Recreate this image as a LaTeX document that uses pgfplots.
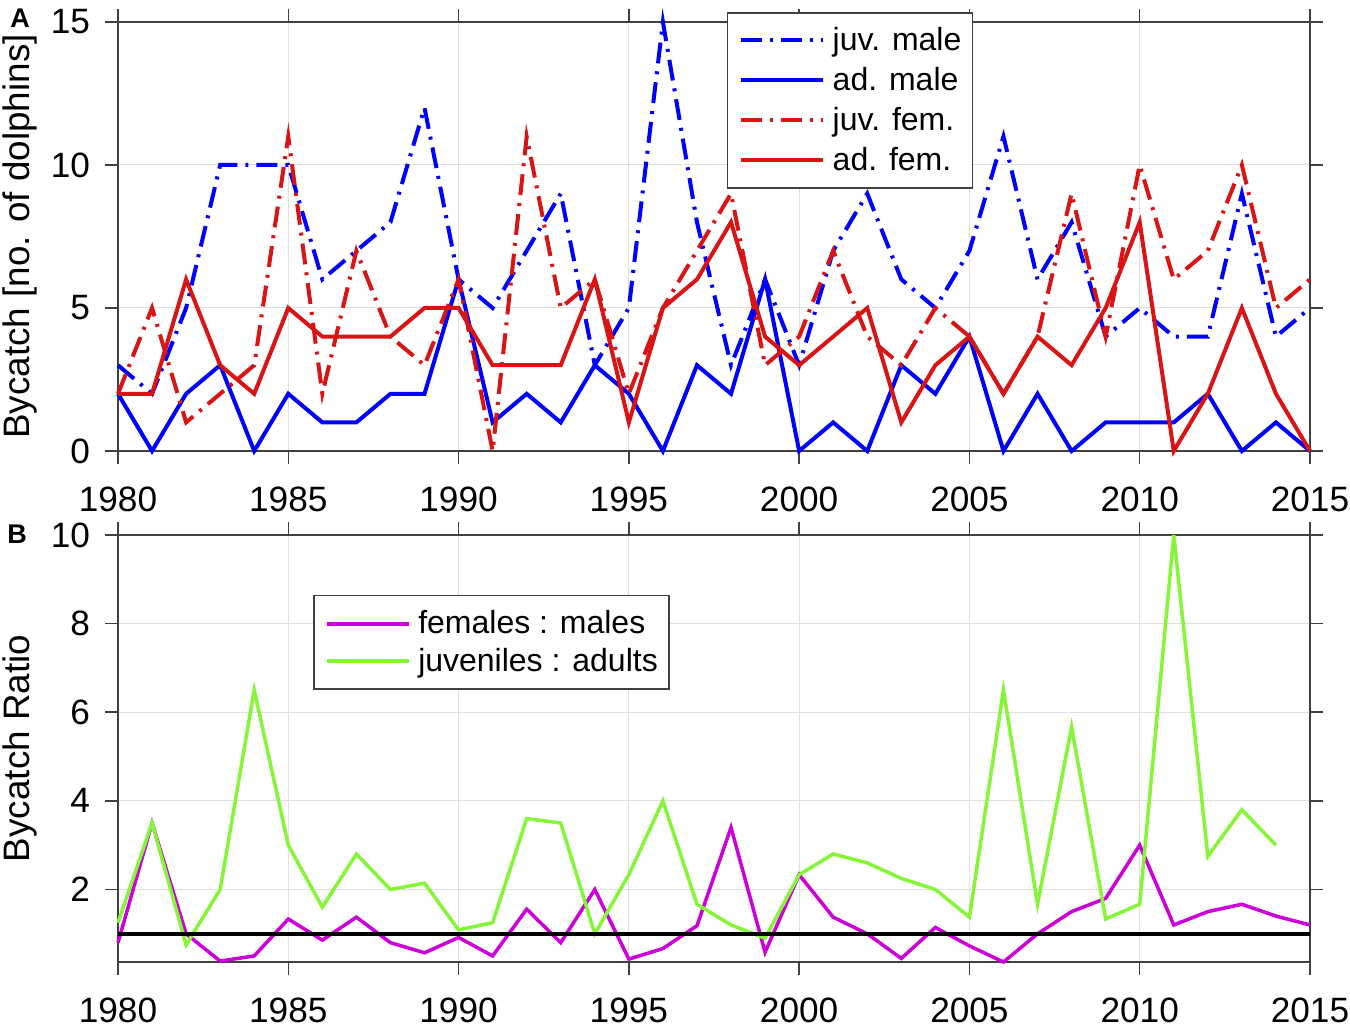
\documentclass[border=0pt]{standalone}
\usepackage{fontspec}
\setmainfont{Liberation Sans}
\usepackage{pgfplots}
\pgfplotsset{compat=1.18}
\usepackage{pgfplotstable}
\definecolor{mblue}{rgb}{0,0,1}
\definecolor{mred}{rgb}{0.85,0.08,0.08}
\definecolor{mmag}{rgb}{0.8,0,0.85}
\definecolor{mgreen}{rgb}{0.52,0.96,0.22}
\definecolor{axgray}{gray}{0.25}
\newcommand\strutA{\hspace*{4pt}\rule[-4pt]{0pt}{16pt}}
\newcommand\strutB{\hspace*{4pt}\rule[-3.6pt]{0pt}{15pt}}

\pgfplotstableread{
year jm am jf af
1980 3 2 2 2
1981 2 0 5 2
1982 5 2 1 6
1983 10 3 2 3
1984 10 0 3 2
1985 10 2 11 5
1986 6 1 2 4
1987 7 1 7 4
1988 8 2 4 4
1989 12 2 3 5
1990 6 6 6 5
1991 5 1 0 3
1992 7 2 11 3
1993 9 1 5 3
1994 3 3 6 6
1995 5 2 2 1
1996 15 0 5 5
1997 8 3 7 6
1998 3 2 9 8
1999 6 6 3 4
2000 3 0 4 3
2001 7 1 7 4
2002 9 0 4 5
2003 6 3 3 1
2004 5 2 5 3
2005 7 4 4 4
2006 11 0 2 2
2007 6 2 4 4
2008 8 0 9 3
2009 4 1 4 5
2010 5 1 10 8
2011 4 1 6 0
2012 4 2 7 2
2013 9 0 10 5
2014 4 1 5 2
2015 5 0 6 0
}\counts

\pgfplotstableread{
year fm
1980 0.8
1981 3.5
1982 1
1983 0.3846
1984 0.5
1985 1.3333
1986 0.8571
1987 1.375
1988 0.8
1989 0.5714
1990 0.9167
1991 0.5
1992 1.5556
1993 0.8
1994 2
1995 0.4286
1996 0.6667
1997 1.1818
1998 3.4
1999 0.5833
2000 2.3333
2001 1.375
2002 1
2003 0.4444
2004 1.1429
2005 0.7273
2006 0.3636
2007 1
2008 1.5
2009 1.8
2010 3
2011 1.2
2012 1.5
2013 1.6667
2014 1.4
2015 1.2
}\fmratio

\pgfplotstableread{
year ja
1980 1.25
1981 3.5
1982 0.75
1983 2
1984 6.5
1985 3
1986 1.6
1987 2.8
1988 2
1989 2.1429
1990 1.0909
1991 1.25
1992 3.6
1993 3.5
1994 1
1995 2.3333
1996 4
1997 1.6667
1998 1.2
1999 0.9
2000 2.3333
2001 2.8
2002 2.6
2003 2.25
2004 2
2005 1.375
2006 6.5
2007 1.6667
2008 5.6667
2009 1.3333
2010 1.6667
2011 10
2012 2.75
2013 3.8
2014 3
}\jaratio

\pgfplotsset{
  mystyle/.style={
    scale only axis,
    width=596pt,
    xmin=1980, xmax=2015,
    xtick={1980,1985,...,2015},
    /pgf/number format/1000 sep={},
    /pgf/number format/assume math mode=true,
    tick align=outside,
    tick pos=both,
    major tick length=6.5pt,
    xticklabel style={font=\fontsize{17.6}{20}\selectfont, yshift=-8pt},
    yticklabel style={font=\fontsize{17.6}{20}\selectfont, xshift=-4pt},
    grid=major,
    major grid style={gray!25, line width=0.5pt},
    axis line style={axgray, line width=0.75pt},
    every tick/.style={axgray, line width=0.75pt},
    clip=false,
    legend cell align=left,
    legend image code/.code={\draw[##1] (0pt,0pt) -- (41pt,0pt);},
    legend style={draw=axgray, line width=0.75pt, font=\fontsize{16}{19}\selectfont,
      inner xsep=5.5pt,
      nodes={inner xsep=0pt}},
    ylabel style={font=\fontsize{18.4}{22}\selectfont, at={(axis description cs:-0.0822,0.5)}, anchor=center},
  },
  dd/.style={dash pattern=on 10.5pt off 4pt on 1.5pt off 4pt},
}

\begin{document}
\begin{tikzpicture}
\useasboundingbox (0,0) rectangle (675pt,517.5pt);

\begin{axis}[mystyle,
  at={(59pt,292pt)}, anchor=south west,
  height=214.5pt,
  ymin=0, ymax=15, ytick={0,5,10,15},
  ylabel={Bycatch [no. of dolphins]},
  legend style={at={(0.5109,1.0233)}, anchor=north west, inner ysep=5pt, row sep=2.5pt, nodes={inner ysep=2pt}},
]
\addplot[mblue, line width=2pt, dd] table[x=year, y=jm] {\counts};
\addlegendentry{\strutA juv. male}
\addplot[mblue, line width=2pt] table[x=year, y=am] {\counts};
\addlegendentry{\strutA ad. male}
\addplot[mred, line width=2pt, dd] table[x=year, y=jf] {\counts};
\addlegendentry{\strutA juv. fem.}
\addplot[mred, line width=2pt] table[x=year, y=af] {\counts};
\addlegendentry{\strutA ad. fem.}
\end{axis}

\begin{axis}[mystyle,
  at={(59pt,36.5pt)}, anchor=south west,
  height=213.5pt,
  ymin=0.3636, ymax=10, ytick={2,4,6,8,10},
  ylabel={Bycatch Ratio},
  legend style={at={(0.1636,0.8595)}, anchor=north west, inner ysep=5.5pt, row sep=1.5pt, nodes={inner ysep=2pt}},
]
\addplot[mmag, line width=1.75pt] table[x=year, y=fm] {\fmratio};
\addlegendentry{\strutB females : males}
\addplot[mgreen, line width=1.75pt] table[x=year, y=ja] {\jaratio};
\addlegendentry{\strutB juveniles : adults}
\addplot[black, line width=2pt, forget plot] coordinates {(1980,1) (2015,1)};
\end{axis}

\node[font=\bfseries\fontsize{13.5}{15}\selectfont] at (10pt,508.5pt) {A};
\node[font=\bfseries\fontsize{13.5}{15}\selectfont] at (8.5pt,250.5pt) {B};
\end{tikzpicture}
\end{document}
